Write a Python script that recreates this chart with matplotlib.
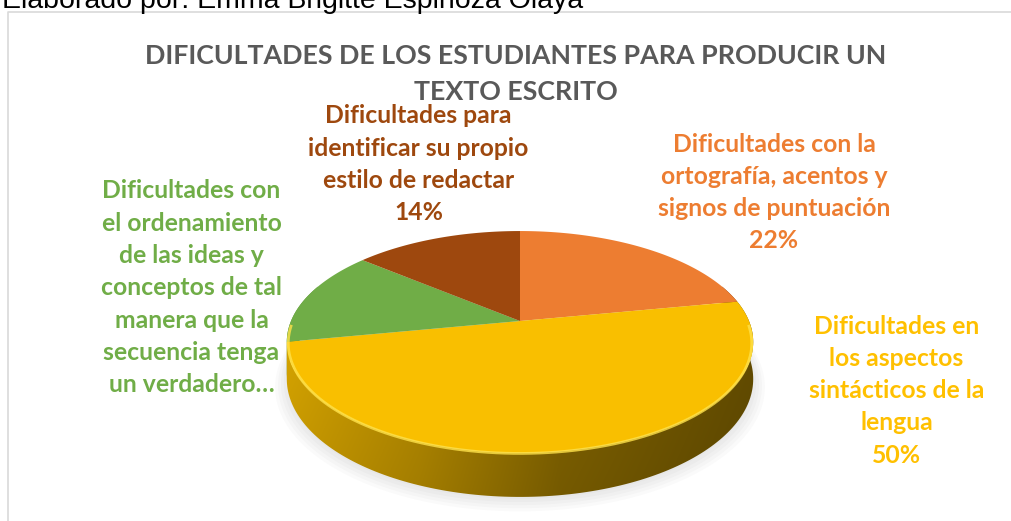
import numpy as np
import matplotlib.pyplot as plt
from matplotlib.path import Path
from matplotlib.patches import PathPatch
from matplotlib.colors import to_rgb

plt.rcParams['font.family'] = ['Lato', 'DejaVu Sans']

W, H = 1011, 521

# ============================================================
# Datos
# ============================================================
CREDITO = "Elaborado por: Emma Brigitte Espinoza Olaya"
TITULO = ["DIFICULTADES DE LOS ESTUDIANTES PARA PRODUCIR UN", "TEXTO ESCRITO"]

categorias = [
    ["Dificultades con la", "ortografía, acentos y", "signos de puntuación"],
    ["Dificultades en", "los aspectos", "sintácticos de la", "lengua"],
    ["Dificultades con", "el ordenamiento", "de las ideas y", "conceptos de tal",
     "manera que la", "secuencia tenga", "un verdadero…"],
    ["Dificultades para", "identificar su propio", "estilo de redactar"],
]
porcentajes = [22, 50, 14, 14]
mostrar_pct = [True, True, False, True]
colores = ["#ED7D31", "#F9BF00", "#70AD47", "#9E480E"]
colores_texto = ["#ED7D31", "#FFC000", "#70AD47", "#9E480E"]

# posición de cada etiqueta (centro x, línea base de la primera línea) en pixeles
pos_etiqueta = [(774, 151.5), (896.5, 333.5), (191.5, 198.3), (418.5, 123.3)]
PASO = 32.3

# ============================================================
# Proyección en perspectiva del pastel 3D (unidades -> pixeles)
# ============================================================
CX = 520      # centro horizontal
PR = 229      # radio horizontal
PY0 = 321     # vértice del pastel
PB = 46.3
PC = 0.189    # fuerza de la perspectiva
PROF = 35.7   # grosor del lado


def proy(x, y, h=0.0):
    w = 1 + PC * y
    return CX + PR * x / w, (PY0 - PB * y + h * PROF) / w


# ============================================================
# Figura
# ============================================================
fig = plt.figure(figsize=(W / 100, H / 100), dpi=100)
bg = fig.add_axes([0, 0, 1, 1])
bg.set_xlim(0, W)
bg.set_ylim(H, 0)
bg.axis('off')

# borde del área del gráfico
bg.plot([8, 8, W], [H, 12, 12], color="#D9D9D9", lw=1.2)

bg.text(2, 8, CREDITO, family=['Liberation Sans', 'DejaVu Sans'], fontsize=20.5,
        color="black", ha='left', va='baseline')

for k, linea in enumerate(TITULO):
    bg.text(516, 63.5 + k * 36.5, linea, fontsize=19.3, fontweight='bold',
            color="#595959", ha='center', va='baseline')

for lineas, pct, ver, col, (x0, y0) in zip(categorias, porcentajes, mostrar_pct,
                                          colores_texto, pos_etiqueta):
    txt = list(lineas) + ([f"{pct}%"] if ver else [])
    for k, linea in enumerate(txt):
        bg.text(x0, y0 + k * PASO, linea, fontsize=17.8, fontweight='bold',
                color=col, ha='center', va='baseline')

# ---- pastel ----
axp = fig.add_axes([0, 0, 1, 1])
wedges, _ = axp.pie(porcentajes, startangle=90, counterclock=False, radius=1)
angulos = [(w.theta1, w.theta2) for w in wedges]
for w in wedges:
    w.remove()
axp.set_aspect('auto')
axp.set_xlim(0, W)
axp.set_ylim(H, 0)
axp.axis('off')

# sombra suave bajo la base
t = np.radians(np.linspace(0, 360, 361))
for k in range(5):
    s = 1.0 + 0.012 * k
    sx, sy = proy(np.cos(t) * s, np.sin(t) * s, 1.0)
    axp.fill(sx, sy + 2 + k, color="#A0A0A0", alpha=0.05, lw=0, zorder=0)

# lados visibles con degradado horizontal
lados = []
for (a1, a2), col in zip(angulos, colores):
    for sh in (-360, 0, 360):
        lo = max(a1 + sh, -200)
        hi = min(a2 + sh, 20)
        if hi > lo:
            lados.append((lo, hi, col))
lados.sort(key=lambda d: -np.sin(np.radians((d[0] + d[1]) / 2)))

gx = np.linspace(280, 760, 300)
gy = np.linspace(280, 505, 80)
f_x = np.interp(gx, [287, 420, 560, 753], [0.86, 0.72, 0.52, 0.40])
f_y = np.interp(gy, [280, 330, 505], [1.0, 1.0, 0.9])
for lo, hi, col in lados:
    t = np.radians(np.linspace(lo, hi, 150))
    xa, ya = proy(np.cos(t), np.sin(t))
    xb, yb = proy(np.cos(t[::-1]), np.sin(t[::-1]), 1.0)
    verts = np.column_stack([np.r_[xa, xb, xa[:1]], np.r_[ya, yb, ya[:1]]])
    clip = PathPatch(Path(verts, closed=True), facecolor='none', edgecolor='none')
    axp.add_patch(clip)
    img = np.clip(np.array(to_rgb(col))[None, None, :]
                  * f_x[None, :, None] * f_y[:, None, None], 0, 1)
    im = axp.imshow(img, extent=(gx[0], gx[-1], gy[-1], gy[0]), origin='upper',
                    aspect='auto', interpolation='bilinear', zorder=2)
    im.set_clip_path(clip)

# cara superior
for (a1, a2), col in zip(angulos, colores):
    t = np.radians(np.linspace(a1, a2, 200))
    xs, ys = proy(np.r_[0, np.cos(t), 0], np.r_[0, np.sin(t), 0])
    axp.fill(xs, ys, color=col, lw=0, zorder=3)

# brillo del bisel en el borde frontal
t = np.radians(np.linspace(-178, -2, 200))
bx, by = proy(np.cos(t) * 0.994, np.sin(t) * 0.994)
axp.plot(bx, by + 1.5, color="#FFE24A", lw=2.0, alpha=0.8, zorder=4)

axp.set_xlim(0, W)
axp.set_ylim(H, 0)

fig.savefig("out.png", dpi=100)
